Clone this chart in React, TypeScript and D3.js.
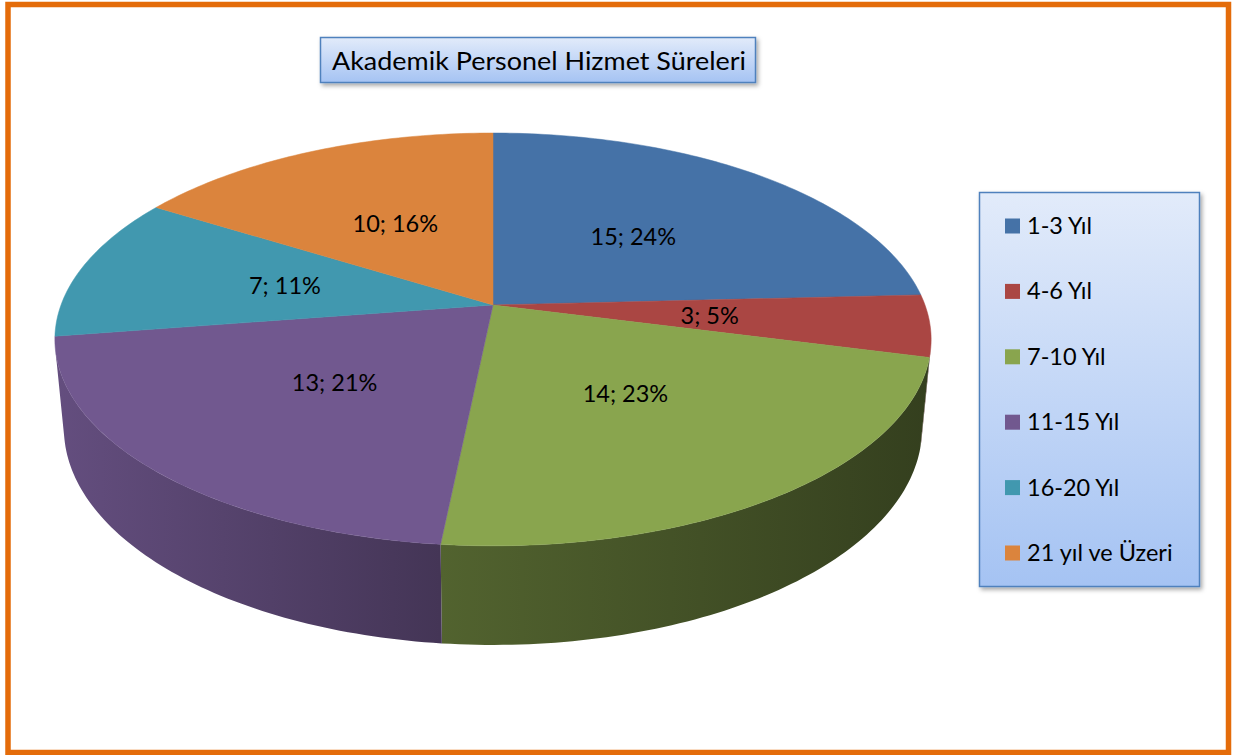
import * as d3 from "d3";

const categories = ["1-3 Yıl", "4-6 Yıl", "7-10 Yıl", "11-15 Yıl", "16-20 Yıl", "21 yıl ve Üzeri"];
const values = [15, 3, 14, 13, 7, 10];
const percentLabels = ["24%", "5%", "23%", "21%", "11%", "16%"];
const colors = ["#4572A7", "#AA4643", "#89A54E", "#71588F", "#4198AF", "#DB843D"];
const title = "Akademik Personel Hizmet Süreleri";

// perspective settings for the 3d pie
const CX = 493, CY = 305, K = 432;
const L = 5.31, SA = 0.4645, CA = 0.8856, H = 0.234;
const FONT = "Lato, 'Open Sans', sans-serif";

function proj(r: number, phi: number, y: number): [number, number] {
  const X = r * Math.sin(phi);
  const Z = -r * Math.cos(phi);
  const depth = L - (y * SA + Z * CA);
  const v = y * CA - Z * SA;
  return [CX + (K * L * X) / depth, CY - (K * L * v) / depth];
}

function arcPoints(a0: number, a1: number, y: number) {
  const n = Math.max(2, Math.ceil(((a1 - a0) * 180) / Math.PI));
  return d3.range(n + 1).map((i) => proj(1, a0 + ((a1 - a0) * i) / n, y));
}

const line = d3.line();

export default function App() {
  const pie = d3.pie<number>().sort(null)(values);
  const color = d3.scaleOrdinal<string, string>().domain(categories).range(colors);
  const shade = d3.scaleLinear().domain([54, 440, 931]).range([0.885, 0.6, 0.38]);

  const visMin = Math.acos(-1 / (L * CA));
  const visMax = 2 * Math.PI - visMin;

  const walls = pie
    .map((p, i) => {
      const b0 = Math.max(p.startAngle, visMin);
      const b1 = Math.min(p.endAngle, visMax);
      if (b1 <= b0) return null;
      const top = arcPoints(b0, b1, 0);
      const bottom = arcPoints(b0, b1, -H).reverse();
      return { i, d: line([...top, ...bottom]) + "Z" };
    })
    .filter((w) => w !== null) as { i: number; d: string }[];

  const tops = pie.map((p, i) => ({
    i,
    d: line([[CX, CY], ...arcPoints(p.startAngle, p.endAngle, 0)]) + "Z",
  }));

  const legendY = d3.scaleLinear().domain([0, categories.length - 1]).range([226, 553]);

  return (
    <svg width={1233} height={755} style={{ position: "absolute", left: 0, top: 0 }}>
      <defs>
        <linearGradient id="boxGrad" x1="0" y1="0" x2="0" y2="1">
          <stop offset="0" stopColor="#e2ebfa" />
          <stop offset="1" stopColor="#a5c3f3" />
        </linearGradient>
        <filter id="shadow" x="-10%" y="-10%" width="130%" height="130%">
          <feDropShadow dx="2" dy="2.5" stdDeviation="2" floodColor="#000" floodOpacity="0.35" />
        </filter>
        {walls.map((w) => {
          const c = d3.rgb(color(categories[w.i]));
          const stops = [54, 440, 931].map((x) => {
            const f = shade(x);
            return d3.rgb(c.r * f, c.g * f, c.b * f).formatHex();
          });
          return (
            <linearGradient key={w.i} id={`wall${w.i}`} gradientUnits="userSpaceOnUse" x1={54} y1={0} x2={931} y2={0}>
              <stop offset={0} stopColor={stops[0]} />
              <stop offset={(440 - 54) / (931 - 54)} stopColor={stops[1]} />
              <stop offset={1} stopColor={stops[2]} />
            </linearGradient>
          );
        })}
      </defs>

      <rect x={0} y={0} width={1233} height={755} fill="#fff" />
      <rect x={8} y={4.5} width={1220.5} height={748} fill="none" stroke="#E46C0A" strokeWidth={5.5} />

      {/* title */}
      <rect x={320.5} y={37.5} width={435} height={45} fill="url(#boxGrad)" stroke="#4f81bd" strokeWidth={1.5} filter="url(#shadow)" />
      <text x={539} y={69.5} textAnchor="middle" fontFamily={FONT} fontSize={25} fill="#000" textLength={414} lengthAdjust="spacingAndGlyphs">
        {title}
      </text>

      {/* pie */}
      <g>
        {walls.map((w) => (
          <path key={`w${w.i}`} d={w.d} fill={`url(#wall${w.i})`} />
        ))}
        {tops.map((t) => (
          <path key={`t${t.i}`} d={t.d} fill={color(categories[t.i])} stroke={color(categories[t.i])} strokeWidth={0.5} />
        ))}
        {pie.map((p, i) => {
          const [x, y] = proj(0.5, (p.startAngle + p.endAngle) / 2, 0);
          return (
            <text key={`l${i}`} x={x} y={y + 8.5} textAnchor="middle" fontFamily={FONT} fontSize={23.5} fill="#000">
              {`${values[i]}; ${percentLabels[i]}`}
            </text>
          );
        })}
      </g>

      {/* legend */}
      <rect x={979.5} y={192.5} width={220} height={394} fill="url(#boxGrad)" stroke="#4f81bd" strokeWidth={1.5} filter="url(#shadow)" />
      {categories.map((c, i) => (
        <g key={c} transform={`translate(1005, ${legendY(i)})`}>
          <rect x={0} y={-7.5} width={15} height={15} fill={color(c)} />
          <text x={22} y={8} fontFamily={FONT} fontSize={23.5} fill="#000">
            {c}
          </text>
        </g>
      ))}
    </svg>
  );
}
